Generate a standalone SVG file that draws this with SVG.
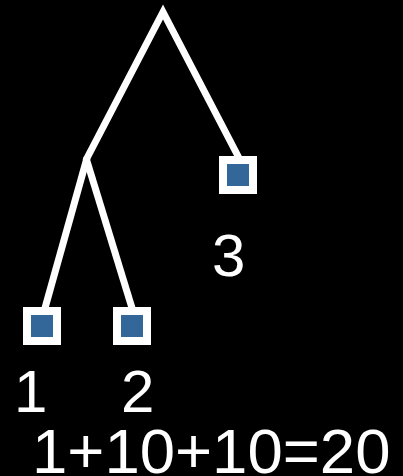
<svg xmlns="http://www.w3.org/2000/svg" width="403" height="476" viewBox="0 0 403 476">
<style>
.edge{fill:none;stroke:#fff;stroke-width:7;stroke-linecap:butt;stroke-linejoin:miter}
.leaf{fill:#336699;stroke:#fff;stroke-width:8}
.lbl{fill:#fff;font-family:"Liberation Sans",Arial,sans-serif;font-size:60px}
</style>
<rect width="403" height="476" fill="#000"/>
<g id="connectors">
<polyline class="edge" points="86,160 163,12 239,158"/>
<line class="edge" x1="87" y1="158" x2="45" y2="308"/>
<line class="edge" x1="86" y1="158" x2="132" y2="308"/>
</g>
<g id="leaf3"><rect class="leaf" x="223" y="160" width="30" height="30"/></g>
<g id="leaf1"><rect class="leaf" x="27" y="311" width="30" height="30"/></g>
<g id="leaf2"><rect class="leaf" x="117" y="311" width="30" height="30"/></g>
<g id="labels">
<text class="lbl" x="212" y="276">3</text>
<text class="lbl" x="14" y="412">1</text>
<text class="lbl" x="121" y="412">2</text>
<text class="lbl" x="32" y="473" style="font-size:63.5px">1+10+10=20</text>
</g>
</svg>
